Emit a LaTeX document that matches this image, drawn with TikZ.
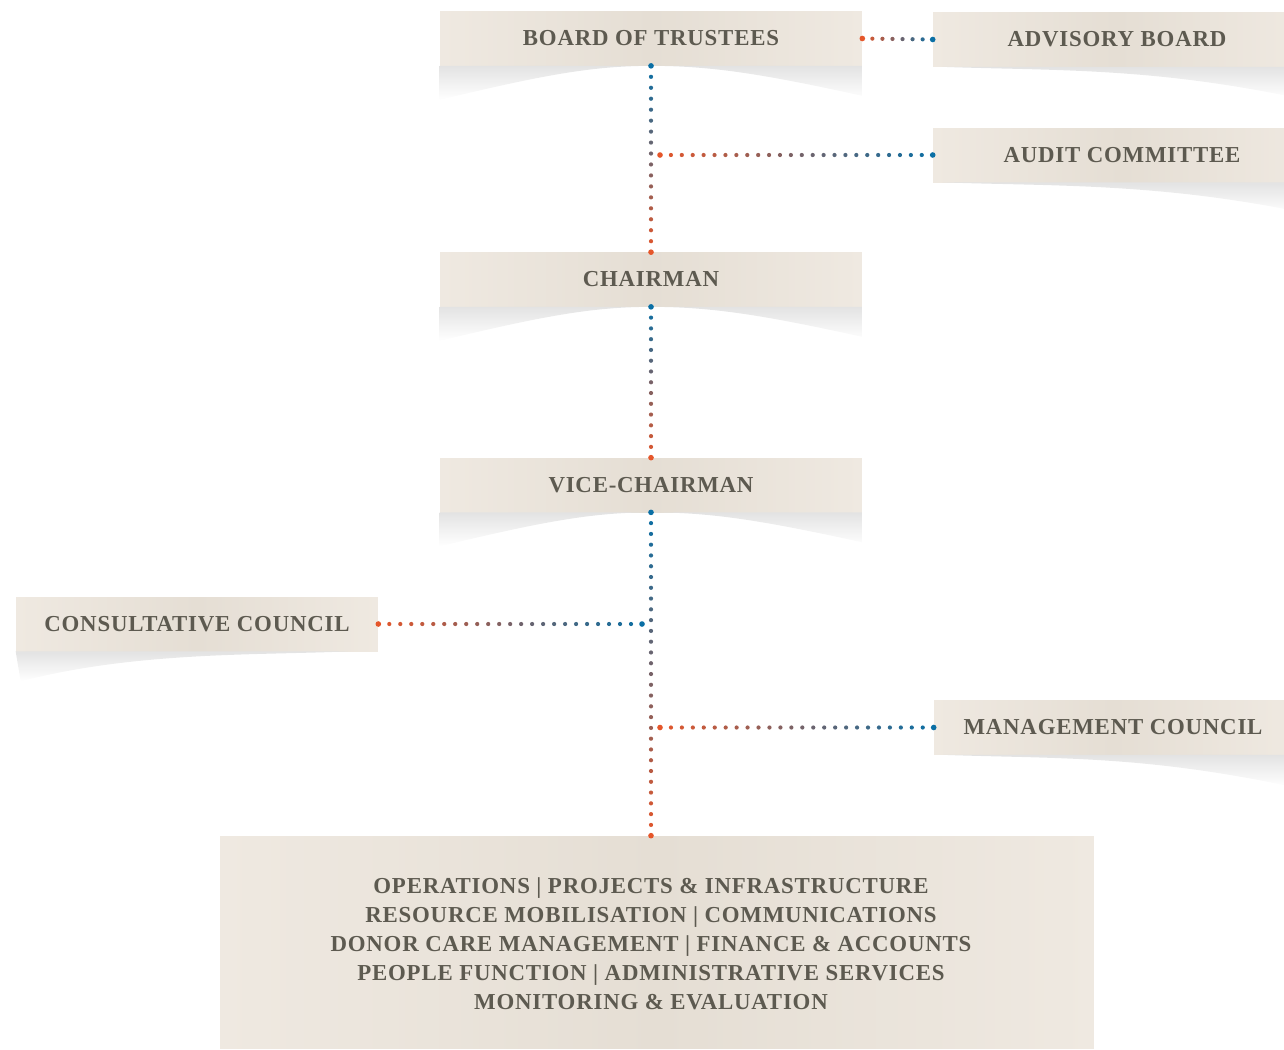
\documentclass[tikz,border=0pt]{standalone}
\usepackage{fontspec}
\setmainfont[LetterSpace=3.5]{Liberation Serif}
\usetikzlibrary{calc}

\definecolor{ink}{HTML}{5D5A50}
\definecolor{boxedge}{HTML}{EFE9E1}
\definecolor{boxmid}{HTML}{E5DED4}
\definecolor{dotorange}{HTML}{E5562A}
\definecolor{dotblue}{HTML}{0A6FA5}

\tikzset{
	box/.style={inner sep=0pt, minimum height=1.08cm, left color=boxedge, right color=boxedge, middle color=boxmid, text=ink, font=\fontsize{13}{16.5}\selectfont\bfseries},
	shadowfill/.style={top color=black!11, bottom color=white}
}

\newcommand{\dotlink}[5]{%
	\foreach \k in {0,1,...,#5} {
		\pgfmathtruncatemacro{\p}{100*\k/#5}
		\pgfmathsetmacro{\t}{\k/#5}
		\pgfmathsetmacro{\r}{(\k==0 || \k==#5) ? 1.6 : 1.2}
		\fill[#4!\p!#3] ($(#1)!\t!(#2)$) circle (\r pt);
	}
}

\newcommand{\lobeshadow}[1]{%
	\shade[shadowfill] (#1.south west) -- (#1.south east) -- ($(#1.south east)+(0,30)$) .. controls ($(#1.south east)+(-100,8)$) and ($(#1.south)+(60,0)$) .. (#1.south) .. controls ($(#1.south)+(-60,0)$) and ($(#1.south west)+(100,10)$) .. ($(#1.south west)+(0,34)$) -- cycle;
}

\begin{document}
\begin{tikzpicture}[x=0.02cm, y=-0.02cm]
	\useasboundingbox (0,0) rectangle (1284,1049);
	\node[box, minimum width=8.44cm] (board) at (651,38.5) {BOARD OF TRUSTEES};
	\node[box, minimum width=7.36cm] (advisory) at (1117,39.5) {ADVISORY BOARD};
	\node[box, minimum width=7.56cm] (audit) at (1122,155) {AUDIT COMMITTEE};
	\node[box, minimum width=8.44cm] (chairman) at (651,279.5) {CHAIRMAN};
	\node[box, minimum width=8.44cm] (vice) at (651,485) {VICE-CHAIRMAN};
	\node[box, minimum width=7.24cm] (consult) at (197,624) {CONSULTATIVE COUNCIL};
	\node[box, minimum width=7.16cm] (mgmt) at (1113,727.5) {MANAGEMENT COUNCIL};
	\node[box, minimum width=17.48cm, minimum height=4.26cm] (units) at (657,942.5) {\raisebox{-1.7pt}[\height][\depth]{\begin{tabular}{@{}c@{}}OPERATIONS | PROJECTS \& INFRASTRUCTURE\\RESOURCE MOBILISATION | COMMUNICATIONS\\DONOR CARE MANAGEMENT | FINANCE \& ACCOUNTS\\PEOPLE FUNCTION | ADMINISTRATIVE SERVICES\\MONITORING \& EVALUATION\end{tabular}}\kern0.24cm};

	\lobeshadow{board}
	\lobeshadow{chairman}
	\lobeshadow{vice}
	\foreach \n in {advisory,audit,mgmt} {
		\shade[shadowfill] ($(\n.south west)+(10,0)$) -- (\n.south east) -- ($(\n.south east)+(0,32)$) .. controls ($(\n.south east)+(-150,0)$) and ($(\n.south west)+(120,4)$) .. ($(\n.south west)+(10,0)$) -- cycle;
	}
	\shade[shadowfill] ($(consult.south east)+(-30,0)$) -- (consult.south west) -- ($(consult.south west)+(5,30)$) .. controls ($(consult.south west)+(120,0)$) and ($(consult.south east)+(-120,4)$) .. ($(consult.south east)+(-30,0)$) -- cycle;

	\coordinate (auditjoin) at ($(board.south |- audit.west)+(9,0)$);
	\coordinate (consultjoin) at ($(vice.south |- consult.east)+(-9,0)$);
	\coordinate (mgmtjoin) at ($(vice.south |- mgmt.west)+(9,0)$);
	\coordinate (unitstop) at (vice.south |- units.north);

	\dotlink{board.east}{advisory.west}{dotorange}{dotblue}{7}
	\dotlink{board.south}{chairman.north}{dotblue}{dotorange}{17}
	\dotlink{auditjoin}{audit.west}{dotorange}{dotblue}{25}
	\dotlink{chairman.south}{vice.north}{dotblue}{dotorange}{14}
	\dotlink{vice.south}{unitstop}{dotblue}{dotorange}{30}
	\dotlink{consult.east}{consultjoin}{dotorange}{dotblue}{24}
	\dotlink{mgmtjoin}{mgmt.west}{dotorange}{dotblue}{25}
\end{tikzpicture}
\end{document}
